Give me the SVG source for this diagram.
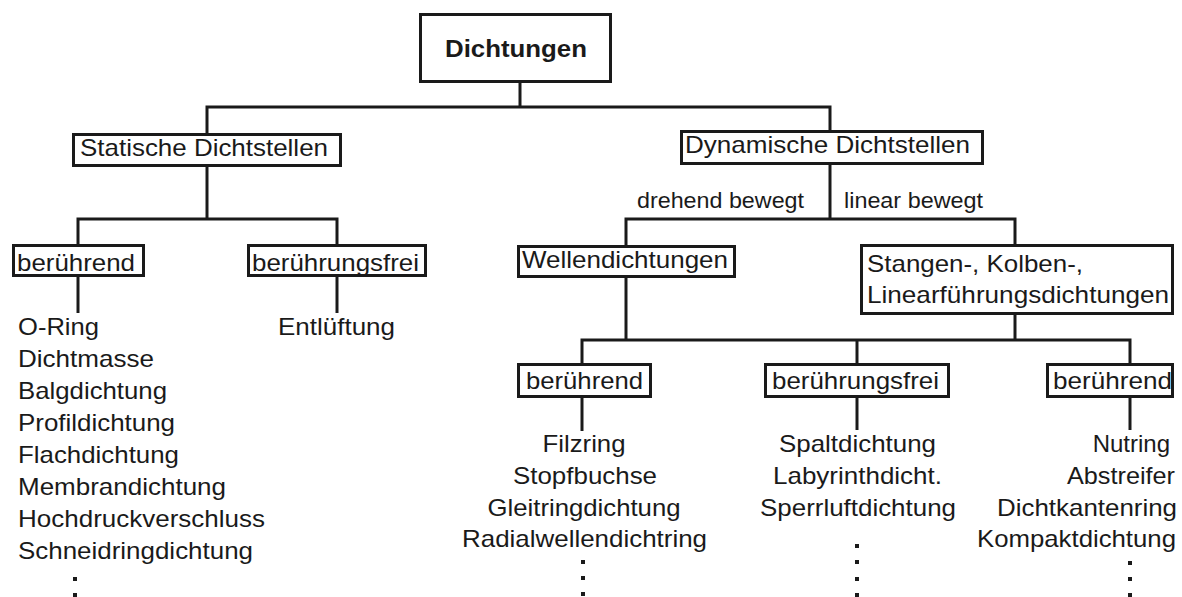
<svg xmlns="http://www.w3.org/2000/svg" width="1182" height="597" viewBox="0 0 1182 597">
<style>
  .box { fill: #ffffff; stroke: #1a1a1a; stroke-width: 3; }
  .t { font-family: "Liberation Sans", Arial, sans-serif; font-size: 24px; fill: #1a1a1a; }
  .b { font-weight: bold; }
  .s { font-size: 22px; }
  .c { text-anchor: middle; }
  .e { text-anchor: end; }
  .ln { fill: none; stroke: #1a1a1a; stroke-width: 3; stroke-linejoin: miter; }
  .dot { fill: #1a1a1a; }
</style>
<rect width="1182" height="597" fill="#ffffff"/>
<g id="connectors">
  <path class="ln" d="M520,83 V107"/>
  <path class="ln" d="M207,133 V107 H830 V130"/>
  <path class="ln" d="M207,167 V219"/>
  <path class="ln" d="M78,244 V219 H337 V245"/>
  <path class="ln" d="M78,277 V313"/>
  <path class="ln" d="M337,277 V313"/>
  <path class="ln" d="M830,165 V219"/>
  <path class="ln" d="M626,245 V219 H1015 V244"/>
  <path class="ln" d="M626,278 V340"/>
  <path class="ln" d="M1015,315 V340"/>
  <path class="ln" d="M582,363 V340 H1130 V363"/>
  <path class="ln" d="M857,340 V363"/>
  <path class="ln" d="M582,398 V431"/>
  <path class="ln" d="M857,398 V430"/>
  <path class="ln" d="M1130,398 V430"/>
  <text class="t s" x="637" y="208" textLength="167" lengthAdjust="spacingAndGlyphs">drehend bewegt</text>
  <text class="t s" x="844" y="208" textLength="139" lengthAdjust="spacingAndGlyphs">linear bewegt</text>
</g>
<g id="n-dichtungen">
  <rect class="box" x="420.5" y="14.5" width="190" height="67"/>
  <text class="t b c" x="516" y="57" textLength="142" lengthAdjust="spacingAndGlyphs">Dichtungen</text>
</g>
<g id="n-statisch">
  <rect class="box" x="73.5" y="134.5" width="267" height="31"/>
  <text class="t" x="80" y="156" textLength="248" lengthAdjust="spacingAndGlyphs">Statische Dichtstellen</text>
</g>
<g id="n-dynamisch">
  <rect class="box" x="681.5" y="131.5" width="301" height="32"/>
  <text class="t" x="685" y="153" textLength="285" lengthAdjust="spacingAndGlyphs">Dynamische Dichtstellen</text>
</g>
<g id="n-stat-beruehrend">
  <rect class="box" x="13.5" y="245.5" width="130" height="30"/>
  <text class="t" x="17" y="271" textLength="118" lengthAdjust="spacingAndGlyphs">berührend</text>
</g>
<g id="n-stat-frei">
  <rect class="box" x="248.5" y="245.5" width="177" height="30"/>
  <text class="t" x="252" y="271" textLength="167" lengthAdjust="spacingAndGlyphs">berührungsfrei</text>
</g>
<g id="l-stat-beruehrend">
  <text class="t" x="18" y="335" textLength="81" lengthAdjust="spacingAndGlyphs">O-Ring</text>
  <text class="t" x="18" y="367" textLength="136" lengthAdjust="spacingAndGlyphs">Dichtmasse</text>
  <text class="t" x="18" y="399" textLength="149" lengthAdjust="spacingAndGlyphs">Balgdichtung</text>
  <text class="t" x="18" y="431" textLength="157" lengthAdjust="spacingAndGlyphs">Profildichtung</text>
  <text class="t" x="18" y="463" textLength="161" lengthAdjust="spacingAndGlyphs">Flachdichtung</text>
  <text class="t" x="18" y="495" textLength="208" lengthAdjust="spacingAndGlyphs">Membrandichtung</text>
  <text class="t" x="18" y="527" textLength="247" lengthAdjust="spacingAndGlyphs">Hochdruckverschluss</text>
  <text class="t" x="18" y="559" textLength="235" lengthAdjust="spacingAndGlyphs">Schneidringdichtung</text>
  <rect class="dot" x="73" y="577" width="4" height="4"/>
  <rect class="dot" x="73" y="593" width="4" height="4"/>
</g>
<g id="l-stat-frei">
  <text class="t" x="278" y="335" textLength="117" lengthAdjust="spacingAndGlyphs">Entlüftung</text>
</g>
<g id="n-wellen">
  <rect class="box" x="518.5" y="246.5" width="216" height="30"/>
  <text class="t" x="522" y="268" textLength="206" lengthAdjust="spacingAndGlyphs">Wellendichtungen</text>
</g>
<g id="n-stangen">
  <rect class="box" x="861.5" y="245.5" width="311" height="68"/>
  <text class="t" x="867" y="272" textLength="216" lengthAdjust="spacingAndGlyphs">Stangen-, Kolben-,</text>
  <text class="t" x="867" y="303" textLength="302" lengthAdjust="spacingAndGlyphs">Linearführungsdichtungen</text>
</g>
<g id="n-dyn-beruehrend-1">
  <rect class="box" x="518.5" y="364.5" width="132" height="32"/>
  <text class="t" x="526" y="389" textLength="117" lengthAdjust="spacingAndGlyphs">berührend</text>
</g>
<g id="n-dyn-frei">
  <rect class="box" x="765.5" y="364.5" width="183" height="32"/>
  <text class="t" x="772" y="389" textLength="167" lengthAdjust="spacingAndGlyphs">berührungsfrei</text>
</g>
<g id="n-dyn-beruehrend-2">
  <rect class="box" x="1047.5" y="364.5" width="125" height="32"/>
  <text class="t" x="1053" y="389" textLength="119" lengthAdjust="spacingAndGlyphs">berührend</text>
</g>
<g id="l-dyn-beruehrend-1">
  <text class="t c" x="584" y="452" textLength="83" lengthAdjust="spacingAndGlyphs">Filzring</text>
  <text class="t c" x="585" y="484" textLength="144" lengthAdjust="spacingAndGlyphs">Stopfbuchse</text>
  <text class="t c" x="584" y="516" textLength="193" lengthAdjust="spacingAndGlyphs">Gleitringdichtung</text>
  <text class="t c" x="584.5" y="547" textLength="245" lengthAdjust="spacingAndGlyphs">Radialwellendichtring</text>
  <rect class="dot" x="581" y="560" width="4" height="4"/>
  <rect class="dot" x="581" y="576" width="4" height="4"/>
  <rect class="dot" x="581" y="592" width="4" height="4"/>
</g>
<g id="l-dyn-frei">
  <text class="t c" x="857.5" y="452" textLength="157" lengthAdjust="spacingAndGlyphs">Spaltdichtung</text>
  <text class="t c" x="857.5" y="484" textLength="169" lengthAdjust="spacingAndGlyphs">Labyrinthdicht.</text>
  <text class="t c" x="858" y="516" textLength="196" lengthAdjust="spacingAndGlyphs">Sperrluftdichtung</text>
  <rect class="dot" x="855" y="544" width="4" height="4"/>
  <rect class="dot" x="855" y="560" width="4" height="4"/>
  <rect class="dot" x="855" y="577" width="4" height="4"/>
  <rect class="dot" x="855" y="593" width="4" height="4"/>
</g>
<g id="l-dyn-beruehrend-2">
  <text class="t e" x="1170" y="452">Nutring</text>
  <text class="t e" x="1175" y="484" textLength="108" lengthAdjust="spacingAndGlyphs">Abstreifer</text>
  <text class="t e" x="1177" y="516" textLength="180" lengthAdjust="spacingAndGlyphs">Dichtkantenring</text>
  <text class="t e" x="1176" y="547" textLength="199" lengthAdjust="spacingAndGlyphs">Kompaktdichtung</text>
  <rect class="dot" x="1128" y="561" width="4" height="4"/>
  <rect class="dot" x="1128" y="577" width="4" height="4"/>
  <rect class="dot" x="1128" y="593" width="4" height="4"/>
</g>
</svg>
